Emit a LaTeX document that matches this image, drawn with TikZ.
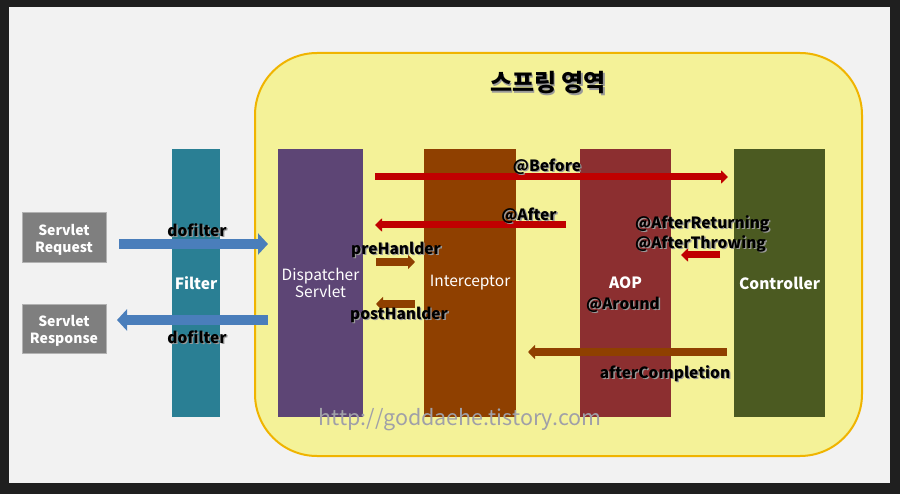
\documentclass[tikz,border=0pt]{standalone}
\usepackage{fontspec}
\setmainfont{Noto Sans CJK KR}
\usetikzlibrary{arrows.meta}
\definecolor{outerbg}{HTML}{1F1F1F}
\definecolor{innerbg}{HTML}{F2F2F2}
\definecolor{springfill}{HTML}{F4F298}
\definecolor{springline}{HTML}{F0B400}
\definecolor{filtercol}{HTML}{2A7F94}
\definecolor{dispcol}{HTML}{5D4575}
\definecolor{intercol}{HTML}{8F4000}
\definecolor{aopcol}{HTML}{8C2F30}
\definecolor{ctrlcol}{HTML}{4B5A21}
\definecolor{servcol}{HTML}{7F7F7F}
\definecolor{bluearr}{HTML}{4A7EBB}
\definecolor{redarr}{HTML}{C00000}
\definecolor{brownarr}{HTML}{8F4000}
\definecolor{wmark}{HTML}{A0A0A8}
\newcommand\shtext[1]{\leavevmode\rlap{\kern1.3pt\raisebox{-1.3pt}{\textcolor{black!40}{#1}}}#1}
\begin{document}
\begin{tikzpicture}[x=1pt,y=-1pt,
  column/.style={inner sep=0pt, outer sep=0pt, minimum height=268pt, text=white, font=\fontsize{15.5}{17.5}\selectfont, align=center},
  servbox/.style={fill=servcol, draw=black!30, line width=0.6pt, inner sep=0pt, minimum width=84pt},
  servtext/.style={inner sep=0pt, yshift=-2.5pt, text=white, font=\bfseries\fontsize{14}{17}\selectfont, align=center},
  lbl/.style={inner sep=0pt, yshift=-2.5pt, text=black, font=\bfseries\fontsize{15.5}{19.5}\selectfont},
  bluearrow/.style={draw=bluearr, line width=10pt, -{Triangle[width=21pt,length=10pt]}},
  redarrow/.style={draw=redarr, line width=7pt, -{Triangle[width=13pt,length=7pt]}},
  brownarrow/.style={draw=brownarr, line width=8pt, -{Triangle[width=14pt,length=7pt]}}
]
\useasboundingbox (0,0) rectangle (900,494);
\fill[outerbg] (0,0) rectangle (900,494);
\fill[innerbg] (9,7) rectangle (890,483);
% spring region
\node[fill=springfill, draw=springline, line width=2pt, rounded corners=62pt, minimum width=607pt, minimum height=403pt, inner sep=0pt] (spring) at (558.5,254.5) {};
\node[lbl, font=\bfseries\fontsize{24}{26}\selectfont] (title) at (548,81) {\shtext{스프링 영역}};
% columns
\node[column, fill=filtercol, minimum width=48pt] (filter) at (196,283) {\bfseries Filter};
\node[column, fill=dispcol, minimum width=85pt] (disp) at (320.5,283) {Dispatcher\\Servlet};
\node[column, fill=intercol, minimum width=92pt] (inter) at (470,283) {Interceptor};
\node[column, fill=aopcol, minimum width=91pt] (aop) at (625.5,283) {\bfseries AOP};
\node[column, fill=ctrlcol, minimum width=91pt] (ctrl) at (779.5,283) {\bfseries Controller};
% servlet boxes
\node[servbox, minimum height=50pt, label={[servtext]center:Servlet\\Request}] (req) at (64,237) {};
\node[servbox, minimum height=49pt, label={[servtext]center:Servlet\\Response}] (resp) at (64,328.5) {};
% arrow end coordinates
\coordinate (reqS) at (119,244);  \coordinate (reqE) at (268,244);
\coordinate (respS) at (268,320); \coordinate (respE) at (117,320);
\coordinate (befS) at (375,177);  \coordinate (befE) at (728,177);
\coordinate (aftS) at (566,225);  \coordinate (aftE) at (375,225);
\coordinate (preS) at (376,262);  \coordinate (preE) at (415,262);
\coordinate (postS) at (415,304); \coordinate (postE) at (376,304);
\coordinate (arS) at (720,255);   \coordinate (arE) at (681,255);
\coordinate (acS) at (727,352);   \coordinate (acE) at (528,352);
% arrows
\draw[bluearrow] (reqS) -- (reqE);
\draw[bluearrow] (respS) -- (respE);
\draw[redarrow] (befS) -- (befE);
\draw[redarrow] (aftS) -- (aftE);
\draw[brownarrow] (preS) -- (preE);
\draw[brownarrow] (postS) -- (postE);
\draw[redarrow] (arS) -- (arE);
\draw[brownarrow] (acS) -- (acE);
% labels
\node[lbl] (df1) at (197,228) {\shtext{dofilter}};
\node[lbl] (df2) at (197,335) {\shtext{dofilter}};
\node[lbl] (lbef) at (547,165) {\shtext{@Before}};
\node[lbl] (laft) at (529,214) {\shtext{@After}};
\node[lbl] (lpre) at (396,248) {\shtext{preHanlder}};
\node[lbl] (lpost) at (399,313) {\shtext{postHanlder}};
\node[lbl, anchor=west, align=left] (lar) at (635,232) {\shtext{@AfterReturning}\\\shtext{@AfterThrowing}};
\node[lbl] (laround) at (623,303) {\shtext{@Around}};
\node[lbl] (lac) at (665,372) {\shtext{afterCompletion}};
\node[inner sep=0pt, yshift=-3pt, text=wmark, font=\fontsize{21.5}{23}\selectfont] (wm) at (460,417) {http://goddaehe.tistory.com};
\end{tikzpicture}
\end{document}
